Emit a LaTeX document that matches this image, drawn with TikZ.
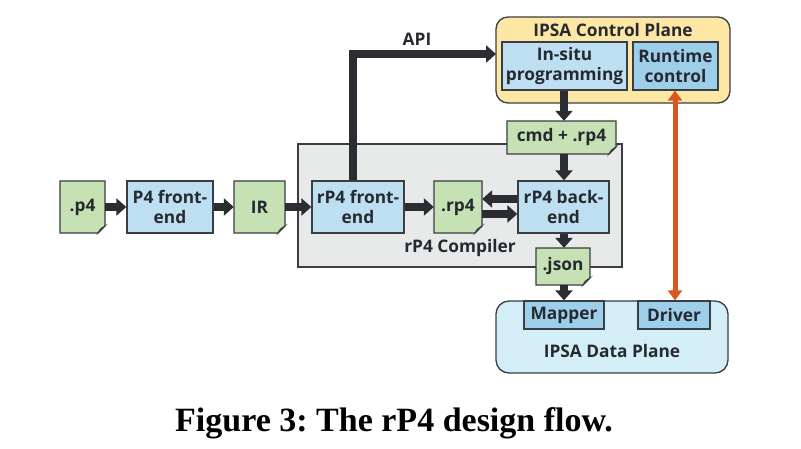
\documentclass[tikz,border=0pt]{standalone}
\usepackage{fontspec}
\setmainfont{Open Sans}
\newfontfamily\capfont{Liberation Serif}
\usetikzlibrary{arrows.meta,calc}
\definecolor{docgreen}{HTML}{C6E2B5}
\definecolor{boxblue}{HTML}{BEDFF2}
\definecolor{darkblue}{HTML}{9DCFEB}
\definecolor{cpyellow}{HTML}{FDE7A4}
\definecolor{dpcyan}{HTML}{D3EEF6}
\definecolor{compgray}{HTML}{E8E9E9}
\definecolor{edge}{HTML}{3A3D42}
\definecolor{arrowdark}{HTML}{2B2D33}
\definecolor{orangearr}{HTML}{D9571F}
\definecolor{txt}{HTML}{262A30}
\tikzset{
  lbl/.style={font=\bfseries\fontsize{17.3}{20}\selectfont, text=txt, align=center, inner sep=0pt},
  bluebox/.style={draw=edge, line width=1.3pt, fill=boxblue, lbl},
  docbox/.style={draw=none, fill=none, lbl},
  flow/.style={draw=arrowdark, line width=7.5pt, -{Triangle[length=10pt,width=17pt]}},
  oflow/.style={draw=orangearr, line width=5pt, {Triangle[length=10pt,width=14pt]}-{Triangle[length=10pt,width=14pt]}},
}
% document shape: x1,y1,x2,y2 (pixel coords)
\newcommand{\docshape}[4]{%
  \draw[draw=edge, line width=1.3pt, fill=docgreen]
    (#1,#2) -- (#3,#2) -- (#3,#4-7) -- (#3-7,#4) -- (#1,#4) -- cycle;
  \draw[draw=edge, line width=0.9pt, fill=white!85!docgreen]
    (#3-7,#4) .. controls (#3-5,#4-4) .. (#3,#4-7) -- cycle;
}
\begin{document}
\begin{tikzpicture}[x=1pt,y=-1pt]
\useasboundingbox[fill=white] (0,0) rectangle (801,449);

% containers
\draw[draw=edge, line width=1.3pt, fill=compgray] (298,144) rectangle (622,267);
\node[lbl, fill=none] (comp) at (460,248) {rP4 Compiler};

\draw[draw=edge, line width=1.3pt, fill=cpyellow, rounded corners=12pt] (496,17) rectangle (730,103);
\node[lbl] (cptitle) at (613,30) {IPSA Control Plane};

\draw[draw=edge, line width=1.3pt, fill=dpcyan, rounded corners=13pt] (496,301) rectangle (728,373);
\node[lbl] (dptitle) at (612,351) {IPSA Data Plane};

% document backgrounds
\docshape{60}{181}{105}{233}
\docshape{234}{181}{285}{233}
\docshape{434}{181}{482}{233}
\docshape{507}{121}{616}{154}
\docshape{536}{248}{590}{285}

% nodes
\node[docbox, minimum width=45pt, minimum height=52pt] (p4) at (82.5,207) {.p4};
\node[bluebox, minimum width=86pt, minimum height=52pt] (p4fe) at (170,207) {P4 front-\\end};
\node[docbox, minimum width=51pt, minimum height=52pt] (ir) at (259.5,207) {IR};
\node[bluebox, minimum width=92pt, minimum height=52pt] (rp4fe) at (358,207) {rP4 front-\\end};
\node[docbox, minimum width=48pt, minimum height=52pt] (rp4) at (458,207) {.rp4};
\node[bluebox, minimum width=91pt, minimum height=52pt] (rp4be) at (563.5,207) {rP4 back-\\end};
\node[docbox, minimum width=109pt, minimum height=33pt] (cmd) at (561.5,137.5) {cmd + .rp4};
\node[docbox, minimum width=54pt, minimum height=37pt] (json) at (563,266.5) {.json};
\node[bluebox, minimum width=125pt, minimum height=48pt] (insitu) at (564.5,66) {In-situ\\programming};
\node[bluebox, fill=darkblue, minimum width=85pt, minimum height=48pt] (rtc) at (675.5,66) {Runtime\\control};
\node[bluebox, fill=darkblue, minimum width=80pt, minimum height=28pt] (mapper) at (564,315) {Mapper};
\node[bluebox, fill=darkblue, minimum width=72pt, minimum height=28pt] (driver) at (674,315) {Driver};

\coordinate (apicorner) at (353,54);
\coordinate (apiend) at (496,54);

% connectors
\draw[flow] (p4.east) -- (p4fe.west);
\draw[flow] (p4fe.east) -- (ir.west);
\draw[flow] (ir.east) -- (rp4fe.west);
\draw[flow] (rp4fe.east) -- (rp4.west);
\draw[flow] (rp4be.west |- 0,199) -- (rp4.east |- 0,199);
\draw[flow] (rp4.east |- 0,214) -- (rp4be.west |- 0,214);
\draw[flow] (insitu.south -| 564,0) -- (cmd.north -| 564,0);
\draw[flow] (cmd.south -| 564,0) -- (rp4be.north -| 564,0);
\draw[flow] (rp4be.south -| 564,0) -- (json.north -| 564,0);
\draw[flow] (json.south -| 564,0) -- (mapper.north -| 564,0);
\draw[flow] (rp4fe.north -| 353,0) -- (apicorner) -- (apiend);
\node[lbl] (api) at (417,39) {API};
\draw[oflow] (rtc.south -| 675,0) -- (driver.north -| 675,0);

% caption
\node[font=\capfont\bfseries\fontsize{34}{40}\selectfont, inner sep=0pt, anchor=base] (cap) at (394,431) {\frenchspacing Figure 3: The rP4 design flow.};
\end{tikzpicture}
\end{document}
